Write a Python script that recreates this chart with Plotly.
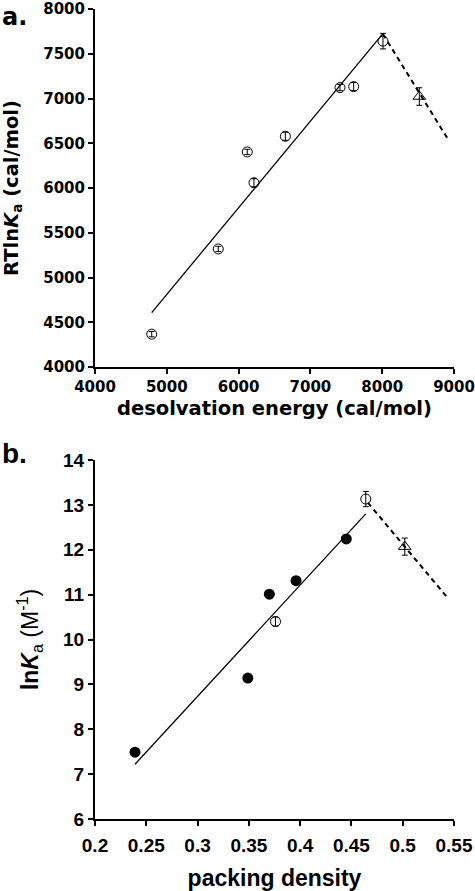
import plotly.graph_objects as go

# ---------------- Panel a data ----------------
a_circ_x = [4790, 5717, 6121, 6214, 6651, 7412, 7603, 8011]
a_circ_y = [4367, 5319, 6403, 6059, 6578, 7122, 7133, 7641]
a_circ_err = [30, 30, 30, 45, 45, 35, 45, 87]
a_tri_x = [8517]
a_tri_y = [7022]
a_tri_err = [98]
a_fit_x = [4790, 8010]
a_fit_y = [4608, 7725]
a_dash_x = [8010, 8920]
a_dash_y = [7720, 6540]
a_xticks = [4000, 5000, 6000, 7000, 8000, 9000]
a_xlabels = ["4000", "5000", "6000", "7000", "8000", "9000"]
a_yticks = [4000, 4500, 5000, 5500, 6000, 6500, 7000, 7500, 8000]
a_ylabels = ["4000", "4500", "5000", "5500", "6000", "6500", "7000", "7500", "8000"]

# ---------------- Panel b data ----------------
b_filled_x = [0.239, 0.349, 0.370, 0.396, 0.445]
b_filled_y = [7.49, 9.14, 11.01, 11.31, 12.24]
b_open_x = [0.376, 0.464]
b_open_y = [10.40, 13.13]
b_open_err = [0.10, 0.17]
b_tri_x = [0.502]
b_tri_y = [12.07]
b_tri_err = [0.19]
b_fit_x = [0.239, 0.464]
b_fit_y = [7.22, 12.80]
b_dash_x = [0.466, 0.543]
b_dash_y = [13.05, 10.95]
b_xticks = [0.2, 0.25, 0.3, 0.35, 0.4, 0.45, 0.5, 0.55]
b_xlabels = ["0.2", "0.25", "0.3", "0.35", "0.4", "0.45", "0.5", "0.55"]
b_yticks = [6, 7, 8, 9, 10, 11, 12, 13, 14]
b_ylabels = ["6", "7", "8", "9", "10", "11", "12", "13", "14"]

FONT_A = "DejaVu Sans"
FONT_B = "Liberation Sans, Arial, sans-serif"
BLACK = "black"


def bold(labels):
    return ["<b>%s</b>" % t for t in labels]


fig = go.Figure()


def err(arr):
    return dict(type="data", array=arr, visible=True, color=BLACK, thickness=1, width=3)


# Panel a traces
fig.add_trace(go.Scatter(x=a_fit_x, y=a_fit_y, mode="lines",
                         line=dict(color=BLACK, width=1.3), xaxis="x", yaxis="y", showlegend=False))
fig.add_trace(go.Scatter(x=a_dash_x, y=a_dash_y, mode="lines",
                         line=dict(color=BLACK, width=2, dash="5px,4px"), xaxis="x", yaxis="y", showlegend=False))
fig.add_trace(go.Scatter(x=a_circ_x, y=a_circ_y, mode="markers", error_y=err(a_circ_err),
                         marker=dict(symbol="circle-open", size=10, color=BLACK, line=dict(width=1, color=BLACK)),
                         xaxis="x", yaxis="y", showlegend=False))
fig.add_trace(go.Scatter(x=a_tri_x, y=a_tri_y, mode="markers", error_y=err(a_tri_err),
                         marker=dict(symbol="triangle-up-open", size=11, color=BLACK, line=dict(width=1, color=BLACK)),
                         xaxis="x", yaxis="y", showlegend=False))

# Panel b traces
fig.add_trace(go.Scatter(x=b_fit_x, y=b_fit_y, mode="lines",
                         line=dict(color=BLACK, width=1.3), xaxis="x2", yaxis="y2", showlegend=False))
fig.add_trace(go.Scatter(x=b_dash_x, y=b_dash_y, mode="lines",
                         line=dict(color=BLACK, width=2, dash="5px,4px"), xaxis="x2", yaxis="y2", showlegend=False))
fig.add_trace(go.Scatter(x=b_filled_x, y=b_filled_y, mode="markers",
                         marker=dict(symbol="circle", size=11, color=BLACK),
                         xaxis="x2", yaxis="y2", showlegend=False))
fig.add_trace(go.Scatter(x=b_open_x, y=b_open_y, mode="markers", error_y=err(b_open_err),
                         marker=dict(symbol="circle-open", size=10, color=BLACK, line=dict(width=1, color=BLACK)),
                         xaxis="x2", yaxis="y2", showlegend=False))
fig.add_trace(go.Scatter(x=b_tri_x, y=b_tri_y, mode="markers", error_y=err(b_tri_err),
                         marker=dict(symbol="triangle-up-open", size=11, color=BLACK, line=dict(width=1, color=BLACK)),
                         xaxis="x2", yaxis="y2", showlegend=False))

tickfont_a = dict(family=FONT_A, size=15, color=BLACK, weight="bold")
titlefont_a = dict(family=FONT_A, size=19.5, color=BLACK)
tickfont_b = dict(family=FONT_B, size=19, color=BLACK, weight="bold")
titlefont_b = dict(family=FONT_B, size=23, color=BLACK)
axis_common = dict(showline=True, linecolor=BLACK, linewidth=2, ticks="outside", ticklen=5,
                   tickwidth=2, tickcolor=BLACK, showgrid=False, zeroline=False,
                   mirror=False, automargin=False, ticklabeloverflow="allow")

TOP = 9
PLOT_H = 891 - TOP - 72

fig.update_layout(
    width=475, height=891,
    margin=dict(l=95, r=21, t=TOP, b=72),
    paper_bgcolor="white", plot_bgcolor="white",
    xaxis=dict(domain=[0, 1], anchor="y", range=[4000, 9000], tickmode="array",
               tickvals=a_xticks, ticktext=bold(a_xlabels), tickfont=tickfont_a,
               title=dict(text="<b>desolvation energy (cal/mol)</b>", font=titlefont_a, standoff=6),
               **axis_common),
    yaxis=dict(domain=[(819 - 367) / PLOT_H, 1], anchor="x", range=[4000, 8000], tickmode="array",
               tickvals=a_yticks, ticktext=bold(a_ylabels), tickfont=tickfont_a,
               title=dict(text="<b>RTln<i>K</i><sub>a</sub> (cal/mol)</b>", font=titlefont_a, standoff=21),
               **axis_common),
    xaxis2=dict(domain=[0, 1], anchor="y2", range=[0.2, 0.55], tickmode="array",
                tickvals=b_xticks, ticktext=bold(b_xlabels), tickfont=tickfont_b,
                ticklabelstandoff=3,
                title=dict(text="<b>packing density</b>", font=titlefont_b, standoff=21),
                **axis_common),
    yaxis2=dict(domain=[0, (819 - 460) / PLOT_H], anchor="x2", range=[6, 14], tickmode="array",
                tickvals=b_yticks, ticktext=bold(b_ylabels), tickfont=tickfont_b,
                title=dict(text="<b>ln<i>K</i></b><sub>a</sub> (M<sup>-1</sup>)", font=titlefont_b, standoff=18),
                **axis_common),
    annotations=[
        dict(text="<b>a.</b>", xref="paper", yref="paper", x=-0.2646, y=1 + (TOP - 1) / PLOT_H,
             xanchor="left", yanchor="top", showarrow=False,
             font=dict(family=FONT_A, size=24, color=BLACK)),
        dict(text="<b>b.</b>", xref="paper", yref="paper", x=-0.2646, y=(819 - 436) / PLOT_H,
             xanchor="left", yanchor="top", showarrow=False,
             font=dict(family=FONT_B, size=28, color=BLACK)),
    ],
)

fig.write_html("out.html", config={"displayModeBar": False},
               post_script="document.body.style.margin='0px';document.body.style.overflow='hidden';")
